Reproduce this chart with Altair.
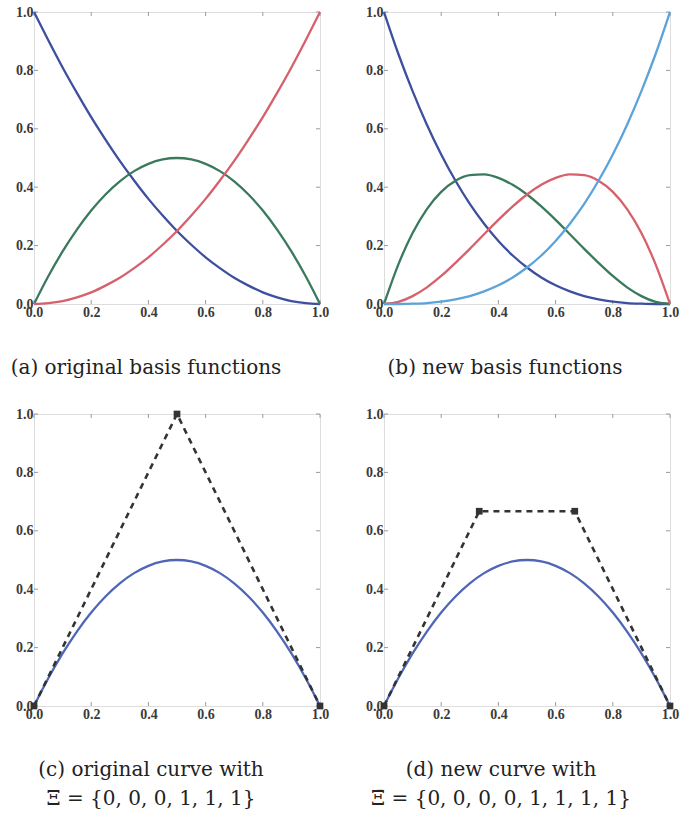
import altair as alt
import pandas as pd

# Parameter samples shared by every curve
t = [0.00, 0.05, 0.10, 0.15, 0.20, 0.25, 0.30, 0.35, 0.40, 0.45, 0.50,
     0.55, 0.60, 0.65, 0.70, 0.75, 0.80, 0.85, 0.90, 0.95, 1.00]

# (a) quadratic basis functions
quad_n0 = [1.000, 0.903, 0.810, 0.723, 0.640, 0.563, 0.490, 0.423, 0.360, 0.303, 0.250,
           0.203, 0.160, 0.123, 0.090, 0.063, 0.040, 0.023, 0.010, 0.003, 0.000]
quad_n1 = [0.000, 0.095, 0.180, 0.255, 0.320, 0.375, 0.420, 0.455, 0.480, 0.495, 0.500,
           0.495, 0.480, 0.455, 0.420, 0.375, 0.320, 0.255, 0.180, 0.095, 0.000]
quad_n2 = [0.000, 0.003, 0.010, 0.023, 0.040, 0.063, 0.090, 0.123, 0.160, 0.203, 0.250,
           0.303, 0.360, 0.423, 0.490, 0.563, 0.640, 0.723, 0.810, 0.903, 1.000]

# (b) cubic basis functions after degree elevation
cub_n0 = [1.000, 0.857, 0.729, 0.614, 0.512, 0.422, 0.343, 0.275, 0.216, 0.166, 0.125,
          0.091, 0.064, 0.043, 0.027, 0.016, 0.008, 0.003, 0.001, 0.000, 0.000]
cub_n1 = [0.000, 0.135, 0.243, 0.325, 0.384, 0.422, 0.441, 0.444, 0.432, 0.408, 0.375,
          0.334, 0.288, 0.239, 0.189, 0.141, 0.096, 0.057, 0.027, 0.007, 0.000]
cub_n2 = [0.000, 0.007, 0.027, 0.057, 0.096, 0.141, 0.189, 0.239, 0.288, 0.334, 0.375,
          0.408, 0.432, 0.444, 0.441, 0.422, 0.384, 0.325, 0.243, 0.135, 0.000]
cub_n3 = [0.000, 0.000, 0.001, 0.003, 0.008, 0.016, 0.027, 0.043, 0.064, 0.091, 0.125,
          0.166, 0.216, 0.275, 0.343, 0.422, 0.512, 0.614, 0.729, 0.857, 1.000]

# (c), (d) the curve itself (identical before and after elevation)
curve_y = [0.000, 0.095, 0.180, 0.255, 0.320, 0.375, 0.420, 0.455, 0.480, 0.495, 0.500,
           0.495, 0.480, 0.455, 0.420, 0.375, 0.320, 0.255, 0.180, 0.095, 0.000]

# control polygons
ctrl_c_x = [0.0, 0.5, 1.0]
ctrl_c_y = [0.0, 1.0, 0.0]
ctrl_d_x = [0.0, 0.333, 0.667, 1.0]
ctrl_d_y = [0.0, 0.667, 0.667, 0.0]

tick_values = [0.0, 0.2, 0.4, 0.6, 0.8, 1.0]

captions = {
    "a": "(a) original basis functions",
    "b": "(b) new basis functions",
    "c": ["(c) original curve with", "Ξ = {0, 0, 0, 1, 1, 1}"],
    "d": ["(d) new curve with", "Ξ̄ = {0, 0, 0, 0, 1, 1, 1, 1}"],
}

SERIF = "'Liberation Serif', 'Times New Roman', 'DejaVu Serif', serif"
CAPTION_FONT = "'DejaVu Serif', serif"

BLUE = "#3d4f9e"
GREEN = "#3a7a5c"
RED = "#d6606c"
CYAN = "#5ba3d8"
CURVE = "#4f66b6"
DASH = "#333333"

W, H = 286, 292

axis_style = dict(
    values=tick_values, format=".1f", domain=False, ticks=False, grid=False,
    labelFont=SERIF, labelFontSize=14, labelFontWeight="bold",
    labelColor="#3a3a3a", labelPadding=1, labelFlush=False, labelOverlap=False,
    title=None,
)
xs = alt.Scale(domain=[0, 1], nice=False, zero=False)
ys = alt.Scale(domain=[0, 1], nice=False, zero=False)


def line_layer(xv, yv, color, dash=None, width=2.3):
    df = pd.DataFrame({"x": xv, "y": yv})
    kw = dict(color=color, strokeWidth=width)
    if dash:
        kw["strokeDash"] = dash
    else:
        kw["interpolate"] = "monotone"
    return alt.Chart(df).mark_line(**kw).encode(
        x=alt.X("x:Q", scale=xs, axis=alt.Axis(**axis_style)),
        y=alt.Y("y:Q", scale=ys, axis=alt.Axis(**axis_style)),
    )


def marker_layer(xv, yv):
    df = pd.DataFrame({"x": xv, "y": yv})
    return alt.Chart(df).mark_point(shape="square", filled=True, size=45,
                                    color=DASH, opacity=1).encode(x="x:Q", y="y:Q")


def inner_ticks():
    df = pd.DataFrame({"v": tick_values})
    base = alt.Chart(df).mark_rule(color="#9a9a9a", strokeWidth=1)
    return [
        base.encode(x="v:Q", y=alt.value(H), y2=alt.value(H - 4)),
        base.encode(x="v:Q", y=alt.value(0), y2=alt.value(4)),
        base.encode(y="v:Q", x=alt.value(0), x2=alt.value(4)),
        base.encode(y="v:Q", x=alt.value(W), x2=alt.value(W - 4)),
    ]


def panel(layers, caption, dx):
    return alt.layer(*inner_ticks(), *layers).properties(
        width=W, height=H,
        title=alt.TitleParams(
            caption, orient="bottom", anchor="middle", frame="group", dx=dx,
            offset=39, font=CAPTION_FONT, fontSize=20, fontWeight="normal",
            color="#222222", lineHeight=29,
        ),
    )


pa = panel([line_layer(t, quad_n0, BLUE), line_layer(t, quad_n1, GREEN),
            line_layer(t, quad_n2, RED)], captions["a"], -31)
pb = panel([line_layer(t, cub_n0, BLUE), line_layer(t, cub_n1, GREEN),
            line_layer(t, cub_n2, RED), line_layer(t, cub_n3, CYAN)], captions["b"], -22)
pc = panel([line_layer(t, curve_y, CURVE),
            line_layer(ctrl_c_x, ctrl_c_y, DASH, dash=[6, 5], width=2.6),
            marker_layer(ctrl_c_x, ctrl_c_y)], captions["c"], -26)
pd_ = panel([line_layer(t, curve_y, CURVE),
             line_layer(ctrl_d_x, ctrl_d_y, DASH, dash=[6, 5], width=2.6),
             marker_layer(ctrl_d_x, ctrl_d_y)], captions["d"], -26)

chart = alt.concat(
    pa, pb, pc, pd_, columns=2, bounds="flush",
    spacing=alt.RowColnumber(row=110, column=64),
).properties(
    padding={"left": 10, "top": 4, "right": 0, "bottom": 0},
).configure_view(
    stroke="#444444", strokeWidth=1.4,
).configure(background="white")

chart.save("out.html", embed_options={"renderer": "svg", "actions": False})
